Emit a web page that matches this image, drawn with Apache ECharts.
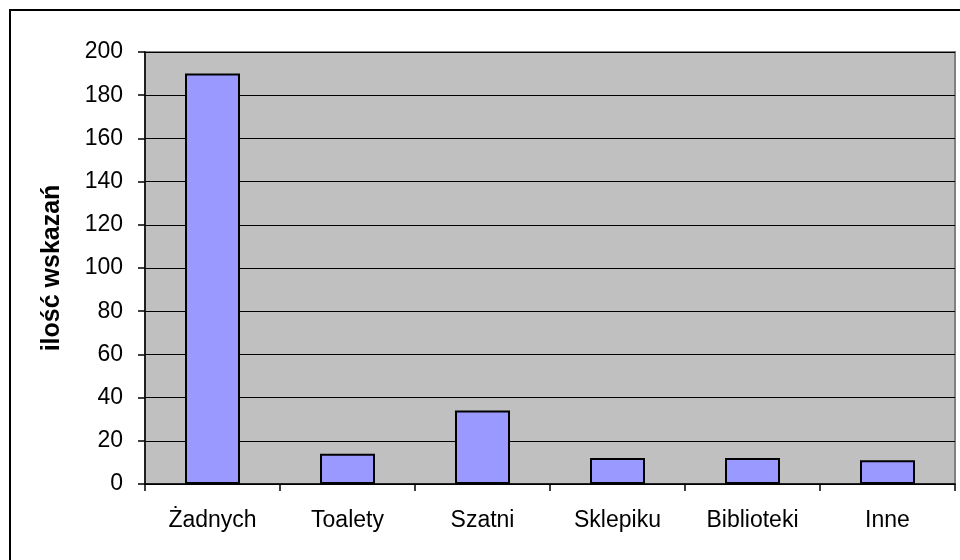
<!DOCTYPE html>
<html>
<head>
<meta charset="utf-8">
<script src="https://cdn.jsdelivr.net/npm/echarts@6/dist/echarts.min.js"></script>
<style>
  html, body { margin: 0; padding: 0; background: #fff; }
  .frame { position: absolute; left: 9px; top: 9px; width: 1000px; height: 600px; border-left: 2px solid #000; border-top: 2px solid #000; }
  #chart { position: absolute; left: 0; top: 0; width: 960px; height: 560px; }
</style>
</head>
<body>
<div class="frame"></div>
<div id="chart"></div>
<script>
var categories = ['Żadnych', 'Toalety', 'Szatni', 'Sklepiku', 'Biblioteki', 'Inne'];
var values = [190, 14, 34, 12, 12, 11];
var yTitle = 'ilość wskazań';

var myChart = echarts.init(document.getElementById('chart'));
var option = {
  animation: false,
  grid: {
    left: 145,
    right: 5,
    top: 52,
    bottom: 76,
    containLabel: false,
    show: true,
    backgroundColor: '#C0C0C0',
    borderWidth: 2,
    borderColor: '#808080'
  },
  xAxis: {
    type: 'category',
    data: categories,
    boundaryGap: true,
    axisLine: { show: true, lineStyle: { color: '#000', width: 1.5 } },
    axisTick: { show: true, alignWithLabel: false, length: 7, lineStyle: { color: '#000', width: 1.5 } },
    axisLabel: { margin: 25, color: '#000', fontFamily: 'Liberation Sans', fontSize: 23 },
    splitLine: { show: false }
  },
  yAxis: {
    type: 'value',
    min: 0,
    max: 200,
    interval: 20,
    name: yTitle,
    nameLocation: 'middle',
    nameGap: 80,
    nameTextStyle: { color: '#000', fontFamily: 'Liberation Sans', fontSize: 25, fontWeight: 'bold' },
    axisLine: { show: true, lineStyle: { color: '#000', width: 1.5 } },
    axisTick: { show: true, length: 7, lineStyle: { color: '#000', width: 1.5 } },
    axisLabel: { margin: 22, color: '#000', fontFamily: 'Liberation Sans', fontSize: 23 },
    splitLine: { show: true, lineStyle: { color: '#000', width: 1.2 } }
  },
  series: [{
    type: 'bar',
    data: values,
    barWidth: 55,
    itemStyle: { color: '#9999FF', borderColor: '#000', borderWidth: 2 }
  }]
};
myChart.setOption(option);
</script>
</body>
</html>
